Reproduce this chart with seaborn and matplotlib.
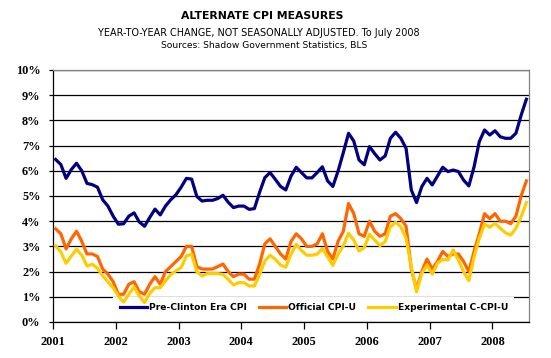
import matplotlib
matplotlib.use("Agg")
import matplotlib.pyplot as plt
import seaborn as sns
import pandas as pd
import numpy as np

# monthly, Jan 2001 .. Jul 2008 (year-to-year change, %)
months = pd.date_range("2001-01-01", "2008-07-01", freq="MS")
years = [2001, 2002, 2003, 2004, 2005, 2006, 2007, 2008]

pre_clinton = [
    6.45, 6.25, 5.70, 6.05, 6.30, 6.00, 5.50, 5.45, 5.35, 4.85, 4.60, 4.20,
    3.88, 3.90, 4.20, 4.33, 3.97, 3.80, 4.15, 4.48, 4.25, 4.60, 4.85, 5.05,
    5.35, 5.70, 5.67, 4.98, 4.80, 4.83, 4.83, 4.90, 5.03, 4.75, 4.54, 4.60,
    4.60, 4.47, 4.50, 5.15, 5.73, 5.93, 5.66, 5.38, 5.24, 5.79, 6.14, 5.93,
    5.72, 5.72, 5.93, 6.16, 5.60, 5.38, 5.99, 6.72, 7.49, 7.18, 6.43, 6.24,
    6.96, 6.68, 6.43, 6.59, 7.29, 7.53, 7.29, 6.89, 5.24, 4.74, 5.37, 5.70,
    5.44, 5.79, 6.14, 5.97, 6.03, 5.97, 5.63, 5.40, 6.16, 7.16, 7.62, 7.42,
    7.59, 7.35, 7.29, 7.29, 7.49, 8.21, 8.84,
]
cpi_u = [
    3.7, 3.5, 2.9, 3.3, 3.6, 3.2, 2.7, 2.7, 2.6, 2.1, 1.9, 1.6,
    1.1, 1.1, 1.5, 1.6, 1.2, 1.1, 1.5, 1.8, 1.5, 2.0, 2.2, 2.4,
    2.6, 3.0, 3.0, 2.2, 2.1, 2.1, 2.1, 2.2, 2.3, 2.0, 1.8, 1.9,
    1.9, 1.7, 1.7, 2.3, 3.1, 3.3, 3.0, 2.7, 2.5, 3.2, 3.5, 3.3,
    3.0, 3.0, 3.1, 3.5, 2.8, 2.5, 3.2, 3.6, 4.7, 4.3, 3.5, 3.4,
    4.0, 3.6, 3.4, 3.5, 4.2, 4.3, 4.1, 3.8, 2.1, 1.3, 2.0, 2.5,
    2.1, 2.4, 2.8, 2.6, 2.7, 2.7, 2.4, 2.0, 2.8, 3.5, 4.3, 4.1,
    4.3, 4.0, 4.0, 3.9, 4.2, 5.0, 5.6,
]
c_cpi_u = [
    3.02, 2.78, 2.33, 2.62, 2.89, 2.65, 2.22, 2.29, 2.13, 1.83, 1.59, 1.36,
    1.03, 0.79, 1.10, 1.39, 1.03, 0.77, 1.14, 1.36, 1.36, 1.63, 1.88, 2.03,
    2.16, 2.62, 2.69, 1.99, 1.83, 1.92, 1.92, 1.92, 1.89, 1.69, 1.47, 1.56,
    1.56, 1.43, 1.43, 1.89, 2.42, 2.65, 2.49, 2.26, 2.18, 2.69, 3.08, 2.84,
    2.65, 2.65, 2.69, 2.92, 2.58, 2.25, 2.69, 3.02, 3.52, 3.25, 2.82, 2.95,
    3.48, 3.25, 3.03, 3.19, 3.78, 3.96, 3.78, 3.32, 2.20, 1.20, 1.93, 2.26,
    1.90, 2.33, 2.49, 2.46, 2.86, 2.46, 2.00, 1.64, 2.59, 3.32, 3.89, 3.76,
    3.92, 3.72, 3.54, 3.45, 3.72, 4.18, 4.74,
]

df = pd.DataFrame({
    "pos": np.arange(len(months)),
    "Pre-Clinton Era CPI": pre_clinton,
    "Official CPI-U": cpi_u,
    "Experimental C-CPI-U": c_cpi_u,
})
colors = {
    "Pre-Clinton Era CPI": "#000080",
    "Official CPI-U": "#FF6600",
    "Experimental C-CPI-U": "#FFCC00",
}

fig = plt.figure(figsize=(5.51, 3.58), dpi=100)
ax = fig.add_axes([53 / 551, 1 - 322 / 358, 476 / 551, 252 / 358])

for name, col in colors.items():
    sns.lineplot(data=df, x="pos", y=name, color=col, linewidth=2.3,
                 label=name, ax=ax, zorder=6)

ax.set_xlim(-0.5, len(months) - 0.5)
ax.set_ylim(0, 10)
ax.set_xlabel("")
ax.set_ylabel("")

# y axis: percent gridlines
ax.set_yticks(range(0, 11))
ax.set_yticklabels([f"{v}%" for v in range(0, 11)])
ax.grid(axis="y", color="black", linewidth=0.9)
ax.set_axisbelow(True)

# x axis: a tick at each January boundary
ax.set_xticks([12 * k - 0.5 for k in range(len(years))])
ax.set_xticklabels([str(y) for y in years])

tick_font = {"family": "Liberation Serif", "weight": "bold", "size": 8.8}
for lab in ax.get_xticklabels() + ax.get_yticklabels():
    lab.set_fontproperties(matplotlib.font_manager.FontProperties(**tick_font))
ax.tick_params(axis="y", length=3, width=0.9, pad=6, colors="black")
ax.tick_params(axis="x", length=5, width=0.9, pad=5, colors="black")

for s in ["left", "bottom"]:
    ax.spines[s].set_color("black")
    ax.spines[s].set_linewidth(0.9)
for s in ["top", "right"]:
    ax.spines[s].set_color("#808080")
    ax.spines[s].set_linewidth(0.9)

leg = ax.legend(loc="center", bbox_to_anchor=(0.548, 0.057), ncol=3,
                frameon=True, facecolor="white", edgecolor="none",
                framealpha=1, fancybox=False, borderpad=0.7,
                handlelength=3.0, handletextpad=0.2, columnspacing=1.3,
                prop={"family": "DejaVu Sans", "weight": "bold", "size": 6.6})
leg.set_zorder(5)

fig.text(262 / 551, 1 - 16 / 358, "ALTERNATE CPI MEASURES", ha="center",
         va="center", fontsize=7.8, fontweight="bold", family="DejaVu Sans")
fig.text(259 / 551, 1 - 32.5 / 358,
         "YEAR-TO-YEAR CHANGE, NOT SEASONALLY ADJUSTED. To July 2008",
         ha="center", va="center", fontsize=6.9, family="DejaVu Sans")
fig.text(264 / 551, 1 - 45.5 / 358,
         "Sources: Shadow Government Statistics, BLS",
         ha="center", va="center", fontsize=6.6, family="DejaVu Sans")

fig.savefig("out.png", dpi=100, facecolor="white")
